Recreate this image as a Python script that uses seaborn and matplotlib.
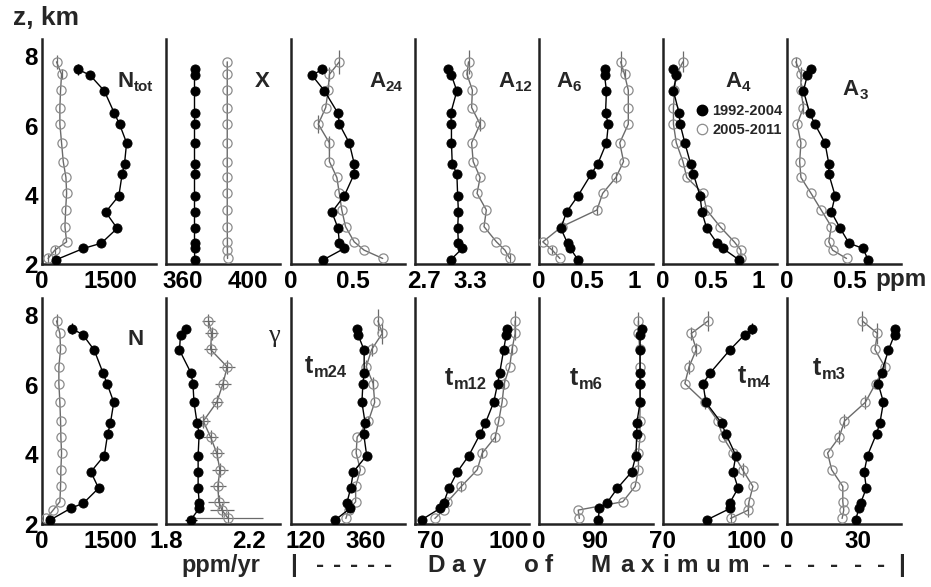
import numpy as np
import pandas as pd
import matplotlib
matplotlib.use("Agg")
import matplotlib.pyplot as plt
import seaborn as sns
from matplotlib.lines import Line2D

# ---------------- data ----------------
# altitudes (km) of the two series
z_a = [2.12, 2.45, 2.6, 3.03, 3.5, 3.97, 4.6, 4.9, 5.5, 6.04, 6.35, 7.0, 7.45, 7.62]     # 1992-2004
z_b = [2.16, 2.4, 2.64, 3.08, 3.56, 4.04, 4.5, 4.96, 5.5, 6.04, 6.52, 7.02, 7.48, 7.84]  # 2005-2011
series_labels = ["1992-2004", "2005-2011"]

# top row
Ntot_a = [303, 909, 1300, 1648, 1396, 1685, 1758, 1810, 1855, 1700, 1589, 1367, 1057, 798]
Ntot_b = [133, 281, 540, 503, 518, 540, 525, 466, 429, 392, 392, 407, 429, 318]
X_a = [367.6, 367.5, 367.5, 367.5, 367.5, 367.5, 367.5, 367.5, 367.5, 367.5, 367.5, 367.5, 367.5, 367.5]
X_b = [387.8, 387.7, 387.7, 387.6, 387.6, 387.6, 387.6, 387.6, 387.6, 387.6, 387.6, 387.6, 387.6, 387.6]
A24_a = [0.26, 0.43, 0.39, 0.38, 0.33, 0.43, 0.51, 0.51, 0.47, 0.39, 0.38, 0.27, 0.17, 0.25]
A24_b = [0.74, 0.59, 0.51, 0.44, 0.41, 0.39, 0.37, 0.31, 0.31, 0.22, 0.28, 0.30, 0.31, 0.39]
A12_a = [3.04, 3.19, 3.14, 3.13, 3.14, 3.13, 3.12, 3.06, 3.05, 3.05, 3.04, 3.12, 3.05, 3.01]
A12_b = [3.80, 3.74, 3.63, 3.47, 3.50, 3.38, 3.42, 3.33, 3.31, 3.42, 3.31, 3.32, 3.25, 3.27]
A6_a = [0.41, 0.33, 0.30, 0.23, 0.29, 0.41, 0.55, 0.62, 0.71, 0.73, 0.70, 0.71, 0.69, 0.69]
A6_b = [0.22, 0.14, 0.04, 0.24, 0.61, 0.67, 0.81, 0.89, 0.85, 0.94, 0.94, 0.94, 0.90, 0.86]
A4_a = [0.80, 0.63, 0.57, 0.46, 0.41, 0.39, 0.32, 0.29, 0.23, 0.18, 0.17, 0.11, 0.14, 0.11]
A4_b = [0.82, 0.82, 0.75, 0.60, 0.46, 0.42, 0.25, 0.21, 0.14, 0.11, 0.11, 0.12, 0.14, 0.21]
A3_a = [0.64, 0.60, 0.49, 0.42, 0.35, 0.38, 0.33, 0.33, 0.30, 0.22, 0.18, 0.13, 0.16, 0.19]
A3_b = [0.47, 0.36, 0.33, 0.35, 0.27, 0.19, 0.11, 0.10, 0.11, 0.08, 0.13, 0.11, 0.11, 0.07]

# bottom row
N_a = [186, 628, 909, 1241, 1071, 1367, 1441, 1500, 1574, 1426, 1337, 1145, 894, 651]
N_b = [97, 244, 392, 407, 414, 429, 414, 407, 392, 370, 370, 407, 392, 318]
gam_a = [1.92, 1.96, 1.96, 1.955, 1.955, 1.955, 1.96, 1.95, 1.935, 1.93, 1.92, 1.865, 1.87, 1.895]
gam_b = [2.10, 2.07, 2.055, 2.05, 2.06, 2.045, 2.015, 1.98, 2.045, 2.075, 2.095, 2.015, 2.02, 2.005]
gam_xerr_a = [0.03, 0.01, 0.01, 0.01, 0.01, 0.01, 0.01, 0.01, 0.01, 0.01, 0.01, 0.01, 0.01, 0.01]
gam_xerr_b = [0.17, 0.06, 0.05, 0.04, 0.04, 0.035, 0.035, 0.03, 0.03, 0.04, 0.04, 0.03, 0.03, 0.03]
tm24_a = [237, 296, 283, 298, 309, 362, 350, 356, 343, 347, 352, 352, 327, 324]
tm24_b = [279, 290, 318, 318, 337, 320, 324, 369, 394, 388, 360, 382, 424, 407]
tm12_a = [66.5, 73.6, 74.9, 77.0, 80.2, 84.6, 89.0, 90.9, 94.1, 95.6, 96.4, 97.9, 98.9, 99.2]
tm12_b = [71.6, 74.9, 76.4, 81.7, 87.8, 89.7, 94.7, 96.0, 97.3, 98.1, 100.2, 101.1, 102.3, 102.3]
tm6_a = [91.2, 91.5, 94.2, 98.0, 103.1, 104.6, 104.9, 104.9, 106.1, 106.1, 106.1, 106.1, 106.1, 106.7]
tm6_b = [84.4, 84.0, 99.9, 104.3, 105.5, 105.5, 106.1, 106.0, 106.1, 106.0, 106.0, 106.0, 105.5, 105.5]
tm4_a = [85.7, 94.0, 93.8, 96.8, 95.0, 96.0, 92.4, 90.9, 85.3, 84.3, 86.9, 93.8, 99.2, 101.9]
tm4_b = [94.1, 100.4, 100.7, 102.1, 98.4, 95.0, 91.4, 89.6, 84.9, 77.8, 79.3, 81.9, 80.1, 86.1]
tm3_a = [28.9, 30.3, 31.0, 33.4, 32.5, 33.9, 37.7, 39.1, 40.6, 38.4, 39.8, 42.7, 45.3, 45.5]
tm3_b = [23.2, 23.9, 23.5, 23.5, 18.8, 17.1, 22.0, 24.2, 33.0, 37.3, 41.2, 37.0, 38.1, 31.7]

# altitude uncertainty half-lengths (km), 0 = none drawn
Ntot_za = [0, 0, 0, 0, 0, 0, 0, 0, 0, 0, 0, 0, 0.12, 0.15]
Ntot_zb = [0.12, 0.12, 0, 0, 0, 0, 0, 0, 0, 0, 0, 0, 0.15, 0.2]
A24_za = [0, 0, 0, 0, 0, 0, 0, 0, 0, 0, 0, 0, 0, 0.12]
A24_zb = [0, 0, 0, 0, 0, 0, 0, 0, 0.2, 0.25, 0, 0.2, 0.2, 0.35]
A12_zb = [0.15, 0, 0, 0, 0, 0, 0, 0, 0, 0.2, 0, 0, 0.15, 0.35]
A6_zb = [0, 0.12, 0, 0.15, 0.15, 0, 0.15, 0, 0, 0, 0, 0, 0.15, 0.3]
A4_zb = [0, 0, 0, 0, 0, 0, 0, 0, 0, 0, 0, 0.2, 0.2, 0.3]
A3_zb = [0, 0, 0, 0, 0, 0, 0, 0, 0, 0, 0.2, 0.2, 0.2, 0.15]
N_za = [0, 0, 0, 0, 0, 0, 0, 0, 0, 0, 0, 0, 0, 0.15]
N_zb = [0, 0, 0, 0, 0, 0, 0, 0, 0, 0, 0, 0, 0, 0.2]
gam_zb = [0.2, 0.2, 0.2, 0.2, 0.2, 0.2, 0.2, 0.2, 0.2, 0.2, 0.2, 0.2, 0.2, 0.2]
tm24_zb = [0, 0, 0, 0, 0, 0, 0, 0.15, 0, 0.2, 0.2, 0.2, 0.3, 0.35]
tm12_zb = [0, 0, 0, 0.15, 0, 0.15, 0.15, 0, 0, 0.15, 0, 0.15, 0.2, 0.3]
tm6_zb = [0, 0, 0, 0, 0, 0, 0, 0, 0, 0, 0, 0, 0, 0.25]
tm4_za = [0, 0, 0, 0, 0, 0, 0, 0, 0, 0, 0, 0, 0, 0.15]
tm4_zb = [0.15, 0.2, 0, 0, 0.2, 0, 0, 0, 0.2, 0, 0.2, 0.2, 0.2, 0.3]
tm3_zb = [0, 0, 0, 0, 0, 0, 0.2, 0.2, 0.2, 0, 0.25, 0, 0.3, 0.3]
zero = [0] * 14

# ---------------- style ----------------
sns.set_theme(style="white")
plt.rcParams["font.family"] = ["Liberation Sans", "DejaVu Sans"]
plt.rcParams["font.weight"] = "bold"

W, H = 931, 587
fig = plt.figure(figsize=(W / 100, H / 100), dpi=100)
fig.patch.set_facecolor("white")

lefts = [42, 166, 291, 415, 539, 663, 787]
PW = 114
rows = {"top": (39, 264), "bot": (298, 524)}
TICK_FS = 17.5

def add_ax(col, row):
    top, bot = rows[row]
    return fig.add_axes([lefts[col] / W, 1 - bot / H, PW / W, (bot - top) / H])

top_specs = [
    dict(a=Ntot_a, b=Ntot_b, ea=Ntot_za, eb=Ntot_zb, xlim=(0, 2500), ticks=[0, 750, 1500, 2250],
         lab={0: "0", 1500: "1500"}, title=("N", "tot"), tpos=(0.66, 0.787)),
    dict(a=X_a, b=X_b, ea=zero, eb=zero, xlim=(350, 420), ticks=list(range(350, 420, 10)),
         lab={360: "360", 400: "400"}, title=("X", ""), tpos=(0.78, 0.787)),
    dict(a=A24_a, b=A24_b, ea=A24_za, eb=A24_zb, xlim=(0, 0.92), ticks=list(np.arange(0, 0.92, 0.125)),
         lab={0: "0", 0.5: "0.5"}, title=("A", "24"), tpos=(0.684, 0.787)),
    dict(a=A12_a, b=A12_b, ea=zero, eb=A12_zb, xlim=(2.58, 4.05), ticks=list(np.arange(2.7, 4.05, 0.2)),
         lab={2.7: "2.7", 3.3: "3.3"}, title=("A", "12"), tpos=(0.728, 0.787)),
    dict(a=A6_a, b=A6_b, ea=zero, eb=A6_zb, xlim=(0, 1.2), ticks=list(np.arange(0, 1.2, 1 / 6)),
         lab={0: "0", 0.5: "0.5", 1.0: "1"}, title=("A", "6"), tpos=(0.149, 0.787)),
    dict(a=A4_a, b=A4_b, ea=zero, eb=A4_zb, xlim=(0, 1.2), ticks=list(np.arange(0, 1.2, 1 / 6)),
         lab={0: "0", 0.5: "0.5", 1.0: "1"}, title=("A", "4"), tpos=(0.544, 0.787)),
    dict(a=A3_a, b=A3_b, ea=zero, eb=A3_zb, xlim=(0, 0.9), ticks=list(np.arange(0, 0.9, 0.125)),
         lab={0: "0", 0.5: "0.5"}, title=("A", "3"), tpos=(0.49, 0.751)),
]
bot_specs = [
    dict(a=N_a, b=N_b, ea=N_za, eb=N_zb, xlim=(0, 2500), ticks=[0, 750, 1500, 2250],
         lab={0: "0", 1500: "1500"}, title=("N", ""), tpos=(0.754, 0.792)),
    dict(a=gam_a, b=gam_b, ea=zero, eb=gam_zb, xlim=(1.8, 2.35), ticks=list(np.arange(1.8, 2.35, 0.08)),
         lab={1.8: "1.8", 2.2: "2.2"}, title=("γ", ""), tpos=(0.895, 0.805),
         xa=gam_xerr_a, xb=gam_xerr_b),
    dict(a=tm24_a, b=tm24_b, ea=zero, eb=tm24_zb, xlim=(60, 515), ticks=list(range(60, 515, 60)),
         lab={120: "120", 360: "360"}, title=("t", "m24"), tpos=(0.123, 0.668)),
    dict(a=tm12_a, b=tm12_b, ea=zero, eb=tm12_zb, xlim=(64.3, 107.6), ticks=list(range(64, 108, 6)),
         lab={70: "70", 100: "100"}, title=("t", "m12"), tpos=(0.263, 0.615)),
    dict(a=tm6_a, b=tm6_b, ea=zero, eb=tm6_zb, xlim=(70, 110.7), ticks=list(range(70, 111, 5)),
         lab={70: "0", 90: "90"}, title=("t", "m6"), tpos=(0.272, 0.615)),
    dict(a=tm4_a, b=tm4_b, ea=tm4_za, eb=tm4_zb, xlim=(70, 110.7), ticks=list(range(70, 111, 5)),
         lab={70: "70", 100: "100"}, title=("t", "m4"), tpos=(0.658, 0.624)),
    dict(a=tm3_a, b=tm3_b, ea=zero, eb=tm3_zb, xlim=(0, 48), ticks=list(range(0, 48, 5)),
         lab={0: "0", 30: "30"}, title=("t", "m3"), tpos=(0.228, 0.659)),
]

OPEN_EDGE = "#8c8c8c"
OPEN_LINE = "#6a6a6a"

def put_title(ax, title, pos, fs, sub_ratio, family=None, weight="bold"):
    main, sub = title
    kw = dict(fontfamily=family) if family else {}
    t = ax.text(pos[0], pos[1], main, transform=ax.transAxes, ha="left", va="baseline",
                fontsize=fs, fontweight=weight, zorder=6, **kw)
    if sub:
        ax.annotate(sub, xy=(1.0, 0.0), xycoords=t, xytext=(0.3, 1.0), textcoords="offset points",
                    ha="left", va="baseline", fontsize=fs * sub_ratio, fontweight="bold", zorder=6)

def draw_panel(ax, spec, first_col):
    za = np.array(z_a); zb = np.array(z_b)
    xb = spec.get("xb"); xa = spec.get("xa")
    eb = np.array(spec["eb"], float); ea = np.array(spec["ea"], float)
    if xb is not None or eb.any():
        ax.errorbar(spec["b"], zb, yerr=eb, xerr=xb, fmt="none", ecolor=OPEN_LINE,
                    elinewidth=0.9, capsize=0, zorder=2)
    if xa is not None or ea.any():
        ax.errorbar(spec["a"], za, yerr=ea, xerr=xa, fmt="none", ecolor="black",
                    elinewidth=0.9, capsize=0, zorder=2)
    dfb = pd.DataFrame({"v": spec["b"], "z": z_b})
    dfa = pd.DataFrame({"v": spec["a"], "z": z_a})
    sns.lineplot(data=dfb, x="v", y="z", sort=False, estimator=None, ax=ax,
                 color=OPEN_LINE, linewidth=1.0, marker="o", markersize=6.6,
                 markerfacecolor="none", markeredgecolor=OPEN_EDGE, markeredgewidth=0.9,
                 legend=False, zorder=3)
    sns.lineplot(data=dfa, x="v", y="z", sort=False, estimator=None, ax=ax,
                 color="black", linewidth=1.0, marker="o", markersize=6.6,
                 markerfacecolor="black", markeredgecolor="black", markeredgewidth=0.6,
                 legend=False, zorder=4)
    ax.set_xlim(*spec["xlim"])
    ax.set_ylim(2, 8.5)
    ax.set_xlabel(""); ax.set_ylabel("")
    ax.set_facecolor("white")
    for s in ["top", "right"]:
        ax.spines[s].set_visible(False)
    for s in ["left", "bottom"]:
        ax.spines[s].set_linewidth(1.8)
        ax.spines[s].set_color("#222222")
    ticks = spec["ticks"]
    labels = []
    for t in ticks:
        lbl = ""
        for k, v in spec["lab"].items():
            if abs(t - k) < 1e-6 * max(1, abs(k)) + 1e-9:
                lbl = v
        labels.append(lbl)
    ax.set_xticks(ticks)
    ax.set_xticklabels(labels)
    ax.set_yticks([2, 3, 4, 5, 6, 7, 8])
    if first_col:
        ax.set_yticklabels(["2", "", "4", "", "6", "", "8"])
    else:
        ax.set_yticklabels([])
    ax.tick_params(axis="x", direction="in", length=6, width=1.3, labelsize=TICK_FS, pad=4,
                   colors="#222222", labelcolor="black")
    ax.tick_params(axis="y", direction="in", length=7, width=1.3, labelsize=TICK_FS, pad=3,
                   colors="#222222", labelcolor="black")
    for lab in ax.get_xticklabels() + ax.get_yticklabels():
        lab.set_fontweight("bold")

axes_top = []
for i, spec in enumerate(top_specs):
    ax = add_ax(i, "top")
    draw_panel(ax, spec, i == 0)
    put_title(ax, spec["title"], spec["tpos"], 16, 0.68)
    axes_top.append(ax)
for i, spec in enumerate(bot_specs):
    ax = add_ax(i, "bot")
    draw_panel(ax, spec, i == 0)
    if spec["title"][0] == "γ":
        put_title(ax, spec["title"], spec["tpos"], 19, 0.65,
                  family=["Liberation Serif", "DejaVu Serif"], weight="normal")
    elif spec["title"][0] == "N":
        put_title(ax, spec["title"], spec["tpos"], 16, 0.68)
    else:
        put_title(ax, spec["title"], spec["tpos"], 18, 0.66)

# legend in A4 panel
handles = [Line2D([], [], ls="none", marker="o", markersize=7.5, markerfacecolor="black",
                  markeredgecolor="black"),
           Line2D([], [], ls="none", marker="o", markersize=7.5, markerfacecolor="none",
                  markeredgecolor=OPEN_EDGE, markeredgewidth=0.9)]
leg = axes_top[5].legend(handles, series_labels, loc="center left", bbox_to_anchor=(0.29, 0.638),
                         frameon=False, handlelength=0.8, handletextpad=0.3, borderpad=0,
                         borderaxespad=0, labelspacing=0.3, prop=dict(size=10.5, weight="bold"))
leg.set_zorder(10)

# figure texts
fig.text(13 / W, 1 - 18 / H, "z, km", ha="left", va="center", fontsize=19, fontweight="bold")
fig.text(875 / W, 1 - 280 / H, "ppm", ha="left", va="center", fontsize=TICK_FS, fontweight="bold")
fig.text(221 / W, 1 - 572 / H, "ppm/yr", ha="center", va="baseline", fontsize=17, fontweight="bold")

day_chars = ["|", "-", "-", "-", "-", "-", "D", "a", "y", "o", "f",
             "M", "a", "x", "i", "m", "u", "m", "-", "-", "-", "-", "-", "-", "|"]
day_x = [294, 320, 337, 354, 371, 388, 436, 458, 480, 531, 549,
         600, 627, 648, 666, 687, 713, 738, 766, 788, 811, 834, 858, 881, 902]
for ch, x in zip(day_chars, day_x):
    fig.text(x / W, 1 - 572 / H, ch, ha="center", va="baseline", fontsize=17.5, fontweight="bold")

fig.savefig("out.png", dpi=100, facecolor="white")
